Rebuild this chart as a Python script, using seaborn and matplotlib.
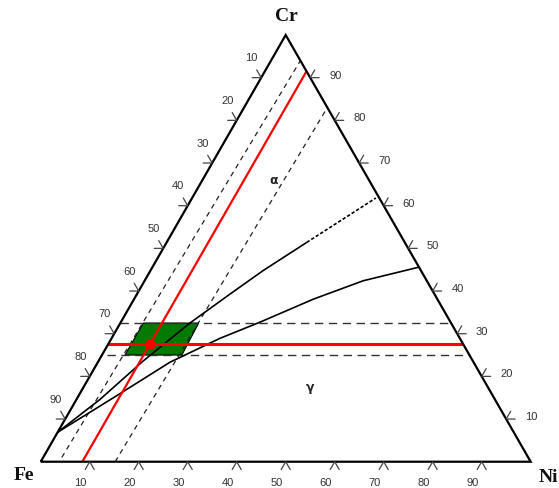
import numpy as np
import seaborn as sns
import matplotlib
matplotlib.use("Agg")
import matplotlib.pyplot as plt
from matplotlib.patches import Polygon

# axis tick values (wt.%)
tick_values = [10, 20, 30, 40, 50, 60, 70, 80, 90]

# phase boundaries, (Ni, Cr) in wt.%
upper_ni = [0.0, 4.8, 9.1, 14.2, 19.0, 23.0, 28.6]
upper_cr = [6.9, 14.6, 23.6, 32.5, 39.3, 44.8, 51.4]
upper_dot_ni = [28.6, 37.5]
upper_dot_cr = [51.4, 61.8]
lower_ni = [0.0, 7.8, 14.7, 22.1, 28.4, 36.6, 44.6, 54.4]
lower_cr = [6.9, 15.5, 23.3, 28.9, 32.7, 38.1, 42.4, 45.6]

# red composition lines and the point
red_ni = 8.5
red_cr = 27.6

# dashed limits
left_dash_ni = [3.8, 6.0]
left_dash_cr = [1.0, 94.0]
right_dash_ni = [15.2, 17.0]
right_dash_cr = [0.0, 83.0]
dash_cr = [32.5, 25.0]
dash_start_ni = [0.0, 1.0]

# green window
box_ni = [4.7, 16.0, 16.3, 4.7]
box_cr = [32.5, 32.5, 25.0, 25.0]

# phase labels
phase_names = ["α", "γ"]
phase_ni = [14.4, 46.2]
phase_cr = [66.1, 17.6]


def tern(ni, cr):
    ni = np.asarray(ni, dtype=float) / 100.0
    cr = np.asarray(cr, dtype=float) / 100.0
    return ni + cr / 2.0, cr


sns.set_style("white")
fig = plt.figure(figsize=(5.59, 4.89), dpi=100)
ax = fig.add_axes([0, 0, 1, 1])
ax.set_xlim(-0.0831, 1.0578)
ax.set_ylim(-0.0616, 1.0844)
ax.axis("off")

PX_X = 490.0   # pixels per unit x
PX_Y = 426.7   # pixels per unit y


def line(ni, cr, color="black", lw=1.1, dashes=None, z=3):
    x, y = tern(ni, cr)
    sns.lineplot(x=x, y=y, sort=False, estimator=None, color=color,
                 linewidth=lw, ax=ax, zorder=z)
    ln = ax.lines[-1]
    if dashes is not None:
        ln.set_dashes(dashes)
    ln.set_solid_capstyle("butt")
    return ln


# green window
bx, by = tern(box_ni, box_cr)
ax.add_patch(Polygon(np.column_stack([bx, by]), closed=True,
                     facecolor="#037a03", edgecolor="black", lw=0.8, zorder=2))

# dashed bounds
line(left_dash_ni, left_dash_cr, color="#222222", lw=0.9, dashes=(4, 3.5))
line(right_dash_ni, right_dash_cr, color="#222222", lw=0.9, dashes=(4, 3.5))
for c, n0 in zip(dash_cr, dash_start_ni):
    line([n0, 100 - c], [c, c], color="#333333", lw=1.0, dashes=(6, 4))

# phase boundaries
line(upper_ni, upper_cr, lw=1.2)
line(upper_dot_ni, upper_dot_cr, lw=1.2, dashes=(2, 1.2))
line(lower_ni, lower_cr, lw=1.2)

# red lines
line([red_ni, red_ni], [0, 100 - red_ni], color="red", lw=1.6, z=4)
line([0, 100 - red_cr], [red_cr, red_cr], color="red", lw=2.2, z=4)
px, py = tern([red_ni], [red_cr])
ax.plot(px, py, "o", color="red", ms=6.5, zorder=5)

# triangle frame
line([0, 100, 0, 0], [0, 0, 100, 0], lw=1.6, z=6)
ax.lines[-1].set_solid_joinstyle("miter")

# chevron ticks and labels
L = 9.0
tick_col = "#444444"
lab_kw = dict(textcoords="offset pixels", ha="center", va="center",
              fontsize=8, family="Liberation Sans", color="#333333")


def chevron(x0, y0, angles):
    a1, a2 = np.radians(angles)
    xs = [x0 + L * np.cos(a1) / PX_X, x0, x0 + L * np.cos(a2) / PX_X]
    ys = [y0 + L * np.sin(a1) / PX_Y, y0, y0 + L * np.sin(a2) / PX_Y]
    ax.plot(xs, ys, color=tick_col, lw=0.9, zorder=6)


for v in tick_values:
    # bottom: Ni
    x0, y0 = tern(v, 0)
    chevron(x0, y0, (240, 300))
    ax.annotate(str(v), (x0, y0), xytext=(-9, -20.5), **lab_kw)
    # left: Fe
    x0, y0 = tern(0, 100 - v)
    chevron(x0, y0, (120, 180))
    ax.annotate(str(v), (x0, y0), xytext=(-9.5, 20.5), **lab_kw)
    # right: Cr
    x0, y0 = tern(100 - v, v)
    chevron(x0, y0, (0, 60))
    ax.annotate(str(v), (x0, y0), xytext=(25, 3), **lab_kw)

# corner labels
corner_kw = dict(fontsize=14, fontweight="bold", family="Liberation Serif",
                 color="#111111", va="center")
x0, y0 = tern(0, 100)
ax.annotate("Cr", (x0, y0), xytext=(1, 20), textcoords="offset pixels",
            ha="center", **corner_kw)
x0, y0 = tern(0, 0)
ax.annotate("Fe", (x0, y0), xytext=(-17, -12.5), textcoords="offset pixels",
            ha="center", **corner_kw)
x0, y0 = tern(100, 0)
ax.annotate("Ni", (x0, y0), xytext=(8, -14.5), textcoords="offset pixels",
            ha="left", **corner_kw)

# phase labels
for name, n, c in zip(phase_names, phase_ni, phase_cr):
    ax.text(*tern(n, c), name, fontsize=9, fontweight="bold",
            family="DejaVu Sans", ha="center", va="center")

fig.savefig("out.png", dpi=100)
